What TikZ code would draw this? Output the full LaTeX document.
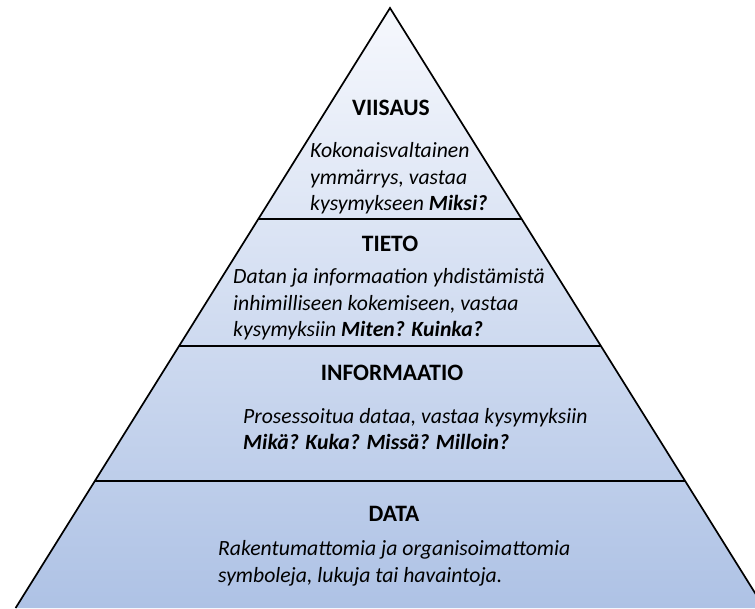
\documentclass[tikz,border=0pt]{standalone}
\usepackage{fontspec}
\setmainfont{Carlito}
\usetikzlibrary{calc}
\tikzset{
  head/.style={font=\fontsize{23.5}{28}\selectfont\bfseries, inner sep=0pt, anchor=base},
  body/.style={font=\fontsize{21.7}{26.6}\selectfont\itshape, inner sep=0pt, anchor=base west, align=left},
  divider/.style={line width=1.1pt, black}
}
\begin{document}
\begin{tikzpicture}[x=1pt,y=1pt]
\useasboundingbox (0,0) rectangle (755,608);
\clip (0,0) rectangle (755,608);
\coordinate (A) at (390,600);
\coordinate (BL) at (15.6,0);
\coordinate (BR) at (764.4,0);
\shade[top color={rgb,255:red,246;green,248;blue,253}, bottom color={rgb,255:red,174;green,194;blue,229}]
  (A) -- (BL) -- (BR) -- cycle;
\draw[line width=1.7pt, line join=miter] (BL) -- (A) -- (BR);
\coordinate (L1) at ($(A)!0.3517!(BL)$); \coordinate (R1) at ($(A)!0.3517!(BR)$);
\coordinate (L2) at ($(A)!0.5633!(BL)$); \coordinate (R2) at ($(A)!0.5633!(BR)$);
\coordinate (L3) at ($(A)!0.7883!(BL)$); \coordinate (R3) at ($(A)!0.7883!(BR)$);
\draw[divider] (L1) -- (R1);
\draw[divider] (L2) -- (R2);
\draw[divider] (L3) -- (R3);
\node[head] (h1) at (391,492) {VIISAUS};
\node[body] (b1) at (310,397) {Kokonaisvaltainen\\ymmärrys, vastaa\\kysymykseen \textbf{Miksi?}};
\node[head] (h2) at (390,356) {TIETO};
\node[body] (b2) at (233,271) {Datan ja informaation yhdistämistä\\inhimilliseen kokemiseen, vastaa\\kysymyksiin \textbf{Miten? Kuinka?}};
\node[head] (h3) at (392,227) {INFORMAATIO};
\node[body] (b3) at (243,158) {Prosessoitua dataa, vastaa kysymyksiin\\\textbf{Mikä? Kuka? Missä? Milloin?}};
\node[head] (h4) at (394,86) {DATA};
\node[body] (b4) at (218,26) {Rakentumattomia ja organisoimattomia\\symboleja, lukuja tai havaintoja.};
\end{tikzpicture}
\end{document}
